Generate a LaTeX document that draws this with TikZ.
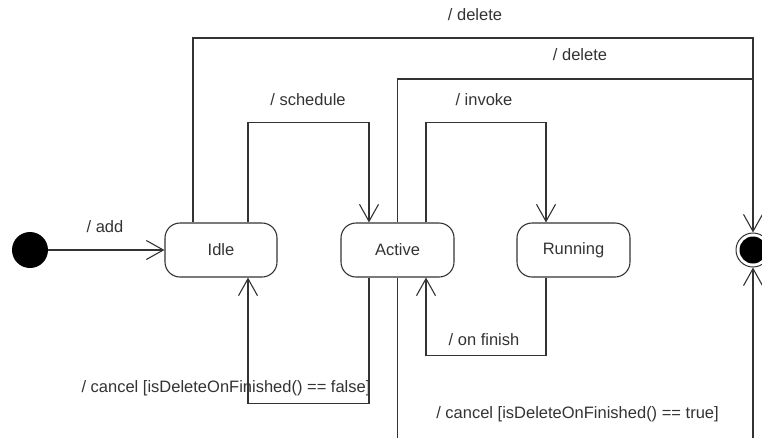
\documentclass[tikz,border=0pt]{standalone}
\usepackage{fontspec}
\setmainfont{Liberation Sans}
\usetikzlibrary{arrows.meta,calc}
\begin{document}
\begin{tikzpicture}[x=1pt,y=-1pt,
  every node/.style={font=\fontsize{16.5}{19}\selectfont, text=black!80},
  state/.style={draw=black!80, line width=1.1pt, rounded corners=15pt,
                minimum width=112pt, minimum height=54pt, inner sep=0pt},
  trans/.style={draw=black!80, line width=1.1pt,
                -{Straight Barb[length=17pt,width=19pt,line width=1.1pt]}},
  plain/.style={draw=black!80, line width=1.1pt},
  lbl/.style={inner sep=0pt, anchor=center}]
  \useasboundingbox (0,0) rectangle (762,437);

  % initial and final pseudo-states
  \node[circle, fill=black, minimum size=36pt, inner sep=0pt] (init) at (30,250) {};
  \node[circle, draw=black!80, line width=1pt, minimum size=34pt, inner sep=0pt] (final) at (753,250) {};
  \fill[black] (final) circle (13.5);

  % states
  \node[state] (idle) at (221,250) {Idle};
  \node[state, minimum width=113pt] (active) at (397.5,250) {Active};
  \node[state, minimum width=113pt] (running) at (573.5,250) {Running};

  % routing corners
  \coordinate (del1) at (753,38);
  \coordinate (del2) at (753,79);

  % transitions
  \draw[trans] (init) -- (idle.west);
  \draw[trans] ([xshift=-28pt]idle.north) |- (del1) -- (final);
  \draw[plain] (active.north) |- (del2);
  \draw[trans] ([xshift=27pt]idle.north) -- ++(0,-100) -| ([xshift=-28.5pt]active.north);
  \draw[trans] ([xshift=28.5pt]active.north) -- ++(0,-100) -| ([xshift=-27.5pt]running.north);
  \draw[trans] ([xshift=-27.5pt]running.south) -- ++(0,78) -| ([xshift=28.5pt]active.south);
  \draw[trans] ([xshift=-28.5pt]active.south) -- ++(0,126) -| ([xshift=27pt]idle.south);
  \draw[trans] (active.south) -- ++(0,175) -| (final);

  % labels
  \node[lbl] (ladd) at (105,227) {/ add};
  \node[lbl] (ldel1) at (475,15) {/ delete};
  \node[lbl] (ldel2) at (580,55) {/ delete};
  \node[lbl] (lsched) at (308,100) {/ schedule};
  \node[lbl] (linv) at (484,100) {/ invoke};
  \node[lbl] (lfin) at (484,340) {/ on finish};
  \node[lbl] (lcf) at (226,388) {/ cancel [isDeleteOnFinished() == false]};
  \node[lbl] (lct) at (577.5,414) {/ cancel [isDeleteOnFinished() == true]};
\end{tikzpicture}
\end{document}
